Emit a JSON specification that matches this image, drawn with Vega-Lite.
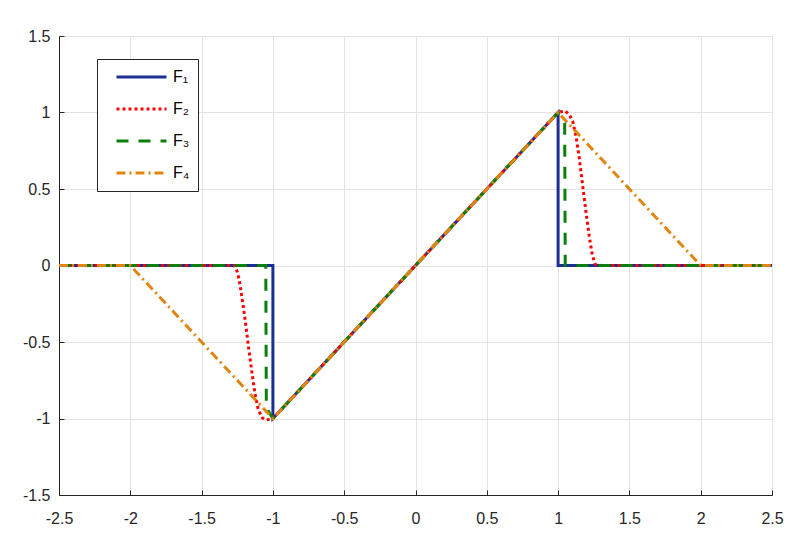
{
  "$schema": "https://vega.github.io/schema/vega-lite/v6.json",
  "width": 713,
  "height": 459,
  "autosize": {"type": "none"},
  "padding": {"left": 59, "top": 36, "right": 28, "bottom": 44},
  "background": "white",
  "config": {
    "view": {"stroke": null},
    "font": "Liberation Sans"
  },
  "data": {
    "values": [
      {"s": "F₁", "i": 0, "x": -2.5, "y": 0},
      {"s": "F₁", "i": 1, "x": -1.0, "y": 0},
      {"s": "F₁", "i": 2, "x": -1.0, "y": -1},
      {"s": "F₁", "i": 3, "x": 1.0, "y": 1},
      {"s": "F₁", "i": 4, "x": 1.0, "y": 0},
      {"s": "F₁", "i": 5, "x": 2.5, "y": 0},

      {"s": "F₂", "i": 0, "x": -2.5, "y": 0},
      {"s": "F₂", "i": 1, "x": -1.27, "y": 0},
      {"s": "F₂", "i": 2, "x": -1.25, "y": -0.04},
      {"s": "F₂", "i": 3, "x": -1.235, "y": -0.1},
      {"s": "F₂", "i": 4, "x": -1.22, "y": -0.19},
      {"s": "F₂", "i": 5, "x": -1.197, "y": -0.34},
      {"s": "F₂", "i": 6, "x": -1.174, "y": -0.51},
      {"s": "F₂", "i": 7, "x": -1.15, "y": -0.68},
      {"s": "F₂", "i": 8, "x": -1.127, "y": -0.83},
      {"s": "F₂", "i": 9, "x": -1.103, "y": -0.94},
      {"s": "F₂", "i": 10, "x": -1.075, "y": -0.995},
      {"s": "F₂", "i": 11, "x": -1.05, "y": -1.01},
      {"s": "F₂", "i": 12, "x": -1.02, "y": -1.005},
      {"s": "F₂", "i": 13, "x": -0.98, "y": -0.98},
      {"s": "F₂", "i": 14, "x": 0.98, "y": 0.98},
      {"s": "F₂", "i": 15, "x": 1.02, "y": 1.005},
      {"s": "F₂", "i": 16, "x": 1.05, "y": 1.01},
      {"s": "F₂", "i": 17, "x": 1.08, "y": 0.985},
      {"s": "F₂", "i": 18, "x": 1.103, "y": 0.94},
      {"s": "F₂", "i": 19, "x": 1.127, "y": 0.84},
      {"s": "F₂", "i": 20, "x": 1.15, "y": 0.69},
      {"s": "F₂", "i": 21, "x": 1.174, "y": 0.51},
      {"s": "F₂", "i": 22, "x": 1.197, "y": 0.34},
      {"s": "F₂", "i": 23, "x": 1.22, "y": 0.18},
      {"s": "F₂", "i": 24, "x": 1.24, "y": 0.07},
      {"s": "F₂", "i": 25, "x": 1.258, "y": 0.012},
      {"s": "F₂", "i": 26, "x": 1.27, "y": 0},
      {"s": "F₂", "i": 27, "x": 2.5, "y": 0},

      {"s": "F₃", "i": 0, "x": -2.5, "y": 0},
      {"s": "F₃", "i": 1, "x": -1.05, "y": 0},
      {"s": "F₃", "i": 2, "x": -1.046, "y": -0.93},
      {"s": "F₃", "i": 3, "x": -1.0, "y": -1},
      {"s": "F₃", "i": 4, "x": 1.0, "y": 1},
      {"s": "F₃", "i": 5, "x": 1.046, "y": 0.93},
      {"s": "F₃", "i": 6, "x": 1.05, "y": 0},
      {"s": "F₃", "i": 7, "x": 2.5, "y": 0},

      {"s": "F₄", "i": 0, "x": -2.5, "y": 0},
      {"s": "F₄", "i": 1, "x": -2.0, "y": 0},
      {"s": "F₄", "i": 2, "x": -1.0, "y": -1},
      {"s": "F₄", "i": 3, "x": 1.0, "y": 1},
      {"s": "F₄", "i": 4, "x": 2.0, "y": 0},
      {"s": "F₄", "i": 5, "x": 2.5, "y": 0}
    ]
  },
  "mark": {"type": "line", "strokeWidth": 3, "clip": true},
  "encoding": {
    "x": {
      "field": "x", "type": "quantitative",
      "scale": {"domain": [-2.5, 2.5], "nice": false, "zero": false},
      "axis": {
        "title": null,
        "values": [-2.5, -2, -1.5, -1, -0.5, 0, 0.5, 1, 1.5, 2, 2.5],
        "labelExpr": "'' + datum.value",
        "labelFontSize": 16,
        "labelFont": "Liberation Sans",
        "labelColor": "#262626",
        "labelPadding": 20,
        "labelBaseline": "top",
        "labelFlush": false,
        "tickSize": -5,
        "tickColor": "#262626",
        "domainColor": "#262626",
        "gridColor": "#e3e3e3"
      }
    },
    "y": {
      "field": "y", "type": "quantitative",
      "scale": {"domain": [-1.5, 1.5], "nice": false, "zero": false},
      "axis": {
        "title": null,
        "values": [-1.5, -1, -0.5, 0, 0.5, 1, 1.5],
        "labelExpr": "'' + datum.value",
        "labelFontSize": 16,
        "labelFont": "Liberation Sans",
        "labelColor": "#262626",
        "labelPadding": 14,
        "labelFlush": false,
        "tickSize": -5,
        "tickColor": "#262626",
        "domainColor": "#262626",
        "gridColor": "#e3e3e3"
      }
    },
    "order": {"field": "i", "type": "quantitative"},
    "color": {
      "field": "s", "type": "nominal",
      "scale": {"domain": ["F₁", "F₂", "F₃", "F₄"], "range": ["#1c2f94", "#ff0000", "#0b7f0b", "#e0850f"]},
      "legend": {
        "title": null,
        "orient": "none",
        "legendX": 38,
        "legendY": 23,
        "symbolType": "stroke",
        "symbolSize": 2500,
        "symbolStrokeWidth": 3,
        "symbolOffset": 10,
        "labelFontSize": 16,
        "labelFont": "Liberation Sans",
        "labelColor": "#000000",
        "labelExpr": "datum.label + '\u00a0\u00a0\u00a0\u00a0\u00a0'",
        "strokeColor": "#262626",
        "fillColor": "white",
        "padding": 8,
        "rowPadding": 12,
        "clipHeight": 20,
        "labelOffset": 5
      }
    },
    "strokeDash": {
      "field": "s", "type": "nominal",
      "scale": {"domain": ["F₁", "F₂", "F₃", "F₄"], "range": [[1, 0], [3, 3], [12, 10], [9, 4, 2, 4]]},
      "legend": null
    }
  }
}
